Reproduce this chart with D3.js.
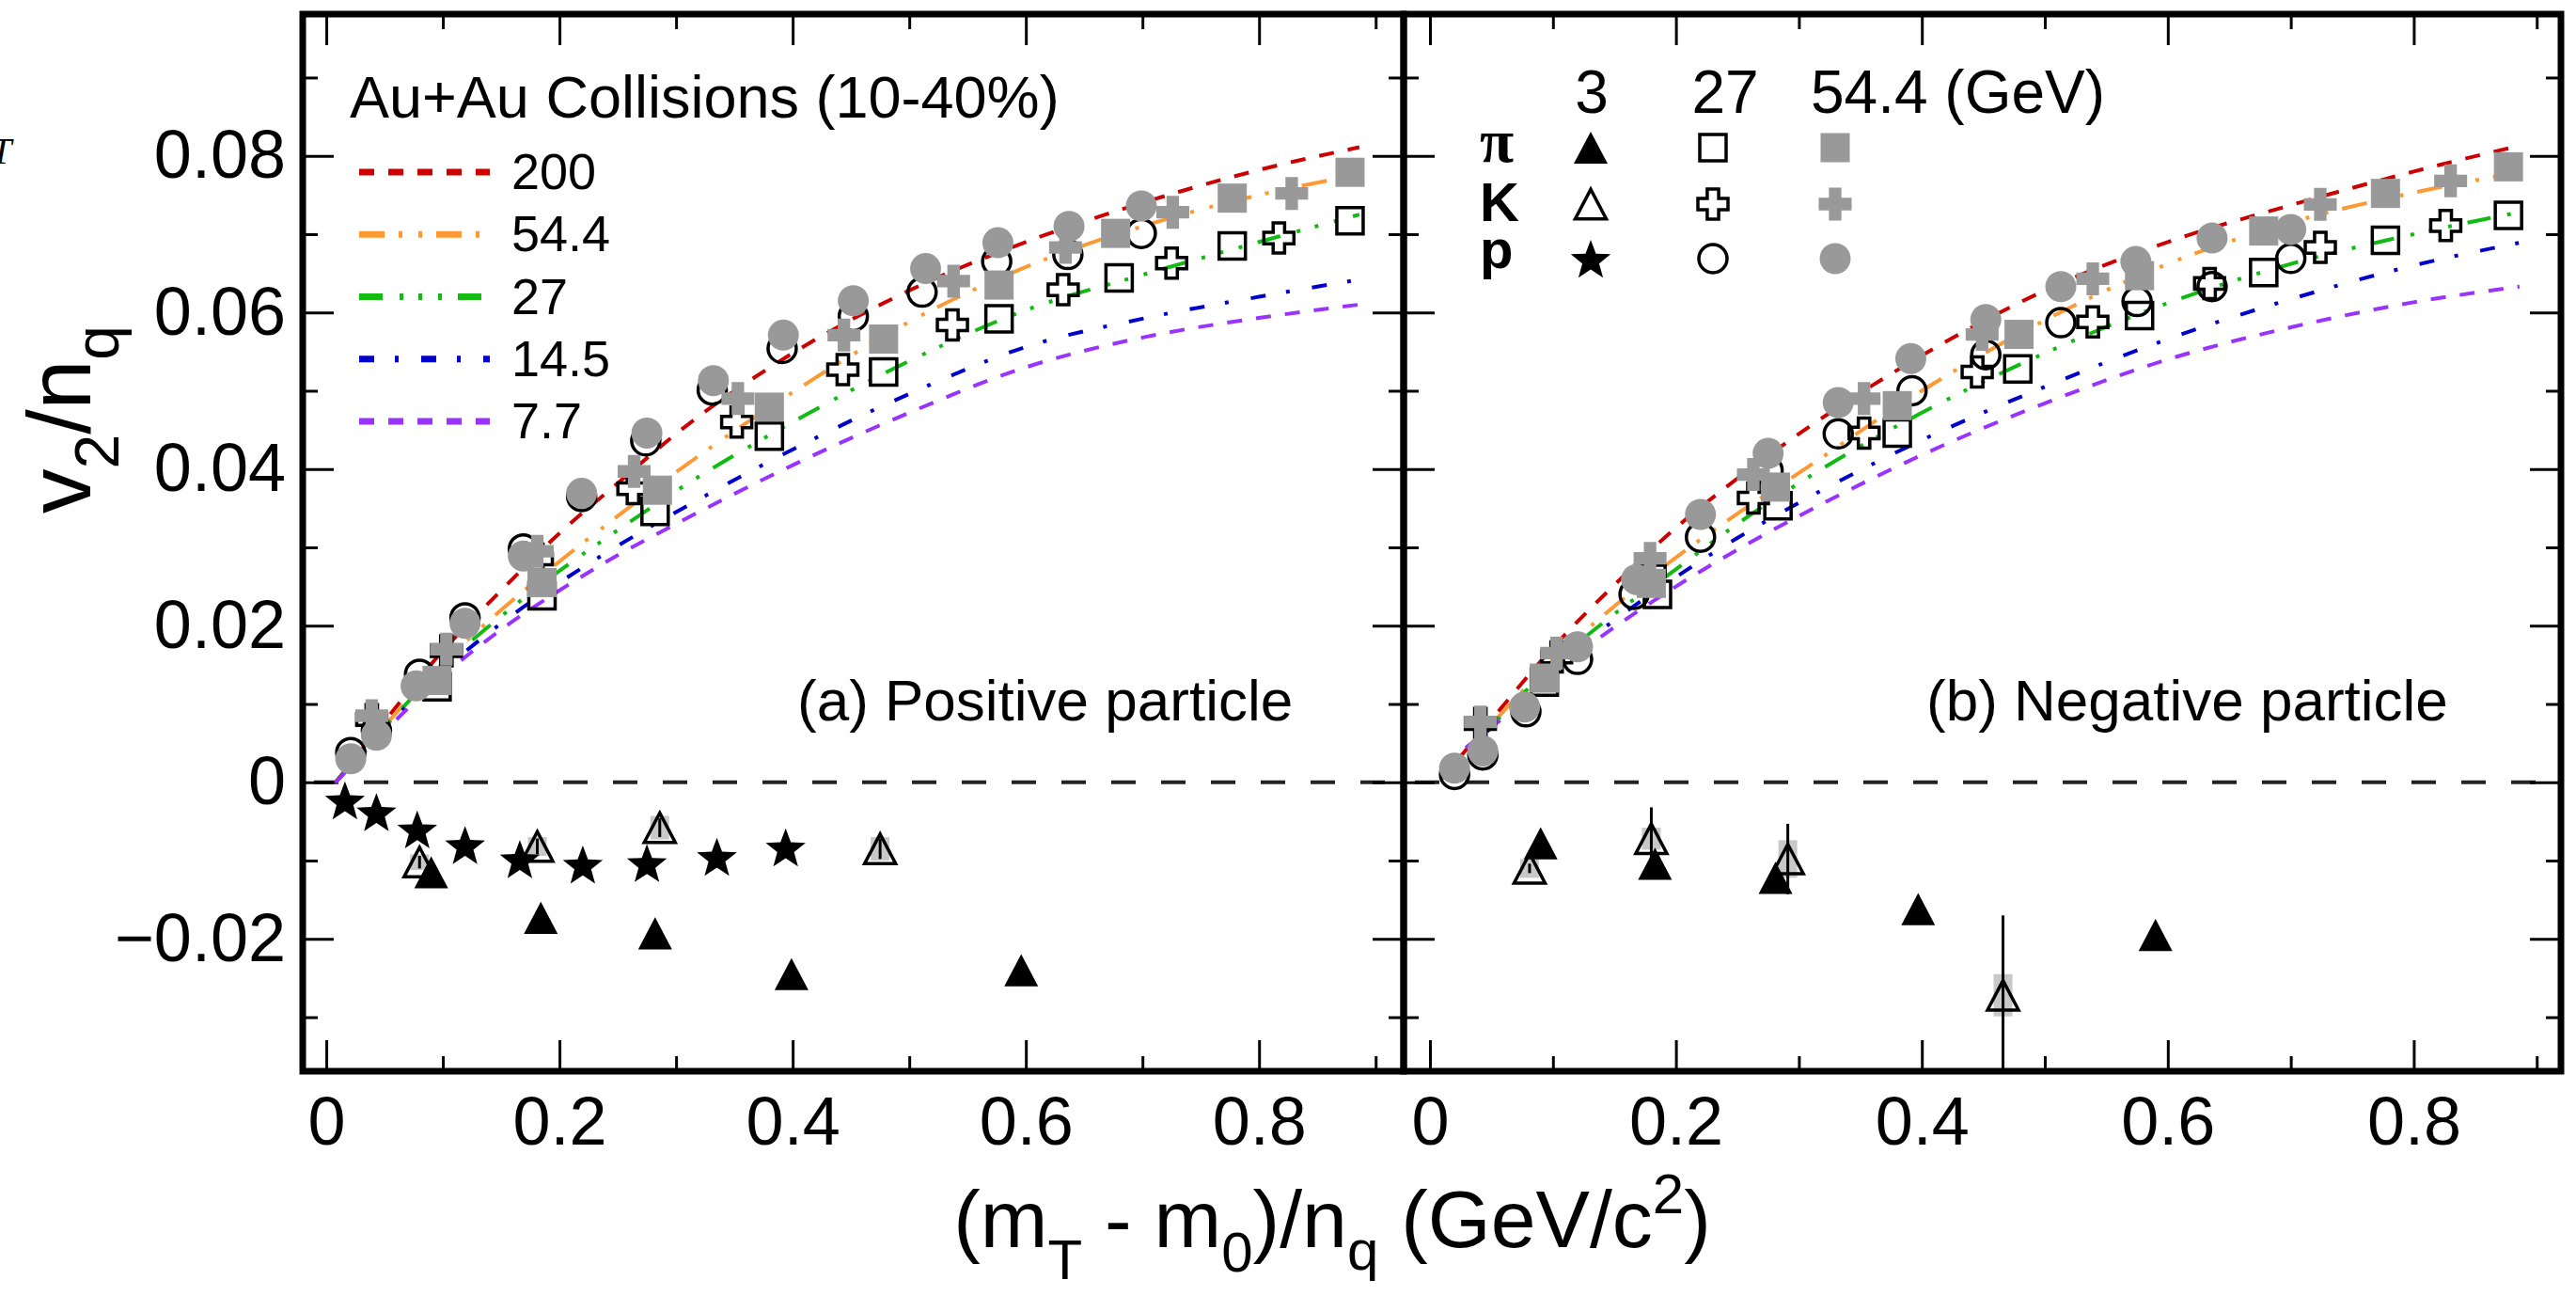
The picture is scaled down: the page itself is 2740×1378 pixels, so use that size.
<!DOCTYPE html>
<html>
<head>
<meta charset="utf-8">
<script src="https://cdn.jsdelivr.net/npm/d3@7"></script>
<style>
  body { margin: 0; background: #ffffff; }
  svg { display: block; }
</style>
</head>
<body>
<svg id="chart" width="2740" height="1378"></svg>
<script>
// ---------------- DATA ----------------
const fitEnergies = ["200", "54.4", "27", "14.5", "7.7"];
const fitColors   = ["#cc0000", "#ff9933", "#11bb11", "#0000cc", "#9933ff"];

const fitPosX = [0.008, 0.05, 0.1, 0.15, 0.2, 0.25, 0.3, 0.4, 0.5, 0.6, 0.7, 0.8, 0.886];
const fitPos200 = [0.0, 0.0078, 0.0168, 0.0245, 0.0318, 0.0382, 0.0445, 0.0548, 0.0628, 0.0690, 0.0740, 0.0782, 0.0811];
const fitPos54  = [0.0, 0.0072, 0.0152, 0.0220, 0.0282, 0.0340, 0.0396, 0.0498, 0.0588, 0.0658, 0.0710, 0.0750, 0.0776];
const fitPos27  = [0.0, 0.0070, 0.0148, 0.0212, 0.0270, 0.0322, 0.0372, 0.0460, 0.0538, 0.0603, 0.0648, 0.0690, 0.0725];
const fitPos14  = [0.0, 0.0068, 0.0142, 0.0203, 0.0255, 0.0302, 0.0345, 0.0425, 0.0496, 0.0556, 0.0592, 0.0620, 0.0642];
const fitPos7   = [0.0, 0.0065, 0.0136, 0.0195, 0.0245, 0.0290, 0.0330, 0.0405, 0.0472, 0.0530, 0.0568, 0.0593, 0.0610];

const fitNegX = [0.01, 0.05, 0.1, 0.15, 0.2, 0.25, 0.3, 0.4, 0.5, 0.6, 0.7, 0.8, 0.886];
const fitNeg200 = [0.0005, 0.0080, 0.0172, 0.0252, 0.0325, 0.0388, 0.0445, 0.0545, 0.0628, 0.0690, 0.0737, 0.0780, 0.0813];
const fitNeg54  = [0.0005, 0.0074, 0.0156, 0.0225, 0.0287, 0.0343, 0.0395, 0.0500, 0.0590, 0.0662, 0.0715, 0.0753, 0.0779];
const fitNeg27  = [0.0008, 0.0072, 0.0150, 0.0215, 0.0272, 0.0330, 0.0382, 0.0472, 0.0548, 0.0612, 0.0662, 0.0700, 0.0728];
const fitNeg14  = [0.0010, 0.0070, 0.0145, 0.0207, 0.0262, 0.0312, 0.0357, 0.0437, 0.0505, 0.0566, 0.0617, 0.0660, 0.0689];
const fitNeg7   = [0.0022, 0.0070, 0.0140, 0.0198, 0.0250, 0.0297, 0.0340, 0.0418, 0.0484, 0.0540, 0.0581, 0.0613, 0.0633];

// (a) positive particles
const posPi3X = [0.090, 0.184, 0.282, 0.399, 0.596];
const posPi3Y = [-0.0115, -0.0173, -0.0193, -0.0245, -0.0240];
const posK3X  = [0.080, 0.181, 0.286, 0.475];
const posK3Y  = [-0.0102, -0.0082, -0.0058, -0.0085];
const posK3Err = [0.0008, 0.0010, 0.0012, 0.0013];
const posK3Sys = [0.0010, 0.0012, 0.0015, 0.0015];
const posP3X  = [0.016, 0.043, 0.078, 0.119, 0.166, 0.220, 0.275, 0.335, 0.394];
const posP3Y  = [-0.0023, -0.0038, -0.0060, -0.0080, -0.0098, -0.0105, -0.0103, -0.0095, -0.0083];
const posPi27X = [0.095, 0.185, 0.282, 0.380, 0.478, 0.577, 0.680, 0.777, 0.878];
const posPi27Y = [0.0122, 0.0238, 0.0346, 0.0442, 0.0524, 0.0592, 0.0644, 0.0685, 0.0717];
const posPi54X = [0.095, 0.185, 0.284, 0.380, 0.478, 0.577, 0.677, 0.777, 0.878];
const posPi54Y = [0.0130, 0.0255, 0.0373, 0.0479, 0.0566, 0.0635, 0.0701, 0.0746, 0.0779];
const posK27X = [0.039, 0.103, 0.181, 0.263, 0.352, 0.443, 0.537, 0.632, 0.725, 0.817];
const posK27Y = [0.0080, 0.0168, 0.0285, 0.0375, 0.0460, 0.0527, 0.0584, 0.0629, 0.0663, 0.0695];
const posK54X = [0.039, 0.103, 0.181, 0.264, 0.353, 0.444, 0.538, 0.634, 0.726, 0.828];
const posK54Y = [0.0085, 0.0170, 0.0295, 0.0397, 0.0490, 0.0571, 0.0640, 0.0683, 0.0728, 0.0752];
const posP27X = [0.021, 0.043, 0.080, 0.119, 0.169, 0.219, 0.274, 0.331, 0.391, 0.452, 0.511, 0.575, 0.636, 0.699];
const posP27Y = [0.0038, 0.0066, 0.0138, 0.0210, 0.0298, 0.0365, 0.0436, 0.0501, 0.0554, 0.0595, 0.0626, 0.0665, 0.0674, 0.0701];
const posP54X = [0.021, 0.043, 0.077, 0.119, 0.169, 0.219, 0.275, 0.332, 0.392, 0.452, 0.514, 0.576, 0.637, 0.699];
const posP54Y = [0.0030, 0.0060, 0.0123, 0.0203, 0.0289, 0.0369, 0.0446, 0.0513, 0.0571, 0.0615, 0.0656, 0.0689, 0.0710, 0.0736];

// (b) negative particles
const negPi3X = [0.090, 0.183, 0.281, 0.397, 0.590];
const negPi3Y = [-0.0078, -0.0104, -0.0122, -0.0162, -0.0195];
const negK3X  = [0.081, 0.180, 0.291, 0.466];
const negK3Y  = [-0.0110, -0.0072, -0.0098, -0.0272];
const negK3Err = [0.0006, 0.0040, 0.0045, 0.0102];
const negK3Sys = [0.0012, 0.0014, 0.0024, 0.0027];
const negPi27X = [0.093, 0.185, 0.283, 0.380, 0.478, 0.577, 0.678, 0.777, 0.877];
const negPi27Y = [0.0128, 0.0240, 0.0353, 0.0446, 0.0528, 0.0596, 0.0651, 0.0692, 0.0724];
const negPi54X = [0.093, 0.180, 0.281, 0.380, 0.479, 0.577, 0.678, 0.777, 0.877];
const negPi54Y = [0.0133, 0.0254, 0.0377, 0.0481, 0.0572, 0.0647, 0.0704, 0.0752, 0.0786];
const negK27X = [0.041, 0.103, 0.179, 0.263, 0.353, 0.445, 0.539, 0.634, 0.724, 0.826];
const negK27Y = [0.0075, 0.0160, 0.0270, 0.0363, 0.0446, 0.0524, 0.0588, 0.0637, 0.0683, 0.0711];
const negK54X = [0.041, 0.103, 0.179, 0.263, 0.353, 0.449, 0.539, 0.724, 0.830];
const negK54Y = [0.0077, 0.0165, 0.0286, 0.0393, 0.0490, 0.0572, 0.0643, 0.0738, 0.0768];
const negP27X = [0.020, 0.043, 0.078, 0.120, 0.166, 0.220, 0.275, 0.332, 0.392, 0.452, 0.513, 0.575, 0.636, 0.700];
const negP27Y = [0.0010, 0.0035, 0.0090, 0.0157, 0.0240, 0.0313, 0.0398, 0.0445, 0.0500, 0.0546, 0.0587, 0.0614, 0.0633, 0.0669];
const negP54X = [0.020, 0.043, 0.077, 0.120, 0.168, 0.220, 0.275, 0.332, 0.391, 0.452, 0.513, 0.574, 0.636, 0.700];
const negP54Y = [0.0018, 0.0040, 0.0096, 0.0173, 0.0259, 0.0342, 0.0420, 0.0485, 0.0541, 0.0591, 0.0633, 0.0665, 0.0695, 0.0706];

// ticks & labels
const xMajor = [0, 0.2, 0.4, 0.6, 0.8];
const xMinor = [0.1, 0.3, 0.5, 0.7, 0.9];
const xTickLabels = ["0", "0.2", "0.4", "0.6", "0.8"];
const yMajor = [-0.02, 0, 0.02, 0.04, 0.06, 0.08];
const yMinor = [-0.03, -0.01, 0.01, 0.03, 0.05, 0.07, 0.09];
const yTickLabels = ["\u22120.02", "0", "0.02", "0.04", "0.06", "0.08"];

const legendHeader = "Au+Au Collisions (10-40%)";
const markerLegendCols = ["3", "27", "54.4 (GeV)"];
const markerLegendRows = ["\u03c0", "K", "p"];

// ---------------- LAYOUT ----------------
const FONT = "'Liberation Sans', Arial, Helvetica, sans-serif";
const svg = d3.select("#chart");
svg.append("rect").attr("width", 2740).attr("height", 1378).attr("fill", "#fff");

const TOP = 15, BOTTOM = 1139;
const yScale = d3.scaleLinear().domain([-0.0369, 0.0981]).range([BOTTOM, TOP]);
const panelA = { id: "a", left: 322, right: 1493, dom: [-0.0202, 0.924] };
const panelB = { id: "b", left: 1493, right: 2724, dom: [-0.0214, 0.9197] };
panelA.x = d3.scaleLinear().domain(panelA.dom).range([panelA.left, panelA.right]);
panelB.x = d3.scaleLinear().domain(panelB.dom).range([panelB.left, panelB.right]);

const fitDash = ["16,15", "27,15,4,17,4,15", "25,18,4,16,4,17,4,17", "16,22,4,24", "16,15"];
const GRAY = "#999999", LIGHT = "#c8c8c8";

// ---------- marker shapes ----------
function shapePath(type, s) {
  const h = s / 2;
  if (type === "square") return `M${-h},${-h}H${h}V${h}H${-h}Z`;
  if (type === "triangle") { const H = s * 0.95; return `M0,${-H/2}L${h},${H/2}L${-h},${H/2}Z`; }
  if (type === "circle") { const p = d3.path(); p.arc(0, 0, h, 0, 2 * Math.PI); p.closePath(); return p.toString(); }
  if (type === "star") {
    const R = s * 0.62, r = R * 0.42; let d = "";
    for (let i = 0; i < 10; i++) {
      const rr = i % 2 === 0 ? R : r;
      const a = -Math.PI / 2 + i * Math.PI / 5;
      d += (i === 0 ? "M" : "L") + (rr * Math.cos(a)).toFixed(2) + "," + (rr * Math.sin(a) + R * 0.1).toFixed(2);
    }
    return d + "Z";
  }
  if (type === "cross") {
    const a = s * 0.19;
    const pts = [[-a,-h],[a,-h],[a,-a],[h,-a],[h,a],[a,a],[a,h],[-a,h],[-a,a],[-h,a],[-h,-a],[-a,-a]];
    return "M" + pts.map(p => p.join(",")).join("L") + "Z";
  }
}
const markerSize = { square: 31, triangle: 36, circle: 33, star: 36, cross: 35 };
const markerStyles = {
  pi3:  { type: "triangle", fill: "#000", stroke: "none" },
  k3:   { type: "triangle", fill: "none", stroke: "#000" },
  p3:   { type: "star", fill: "#000", stroke: "none" },
  pi27: { type: "square", fill: "none", stroke: "#000" },
  k27:  { type: "cross", fill: "none", stroke: "#000" },
  p27:  { type: "circle", fill: "none", stroke: "#000" },
  pi54: { type: "square", fill: GRAY, stroke: "none" },
  k54:  { type: "cross", fill: GRAY, stroke: "none" },
  p54:  { type: "circle", fill: GRAY, stroke: "none" }
};
function drawMarkers(g, xs, ys, styleKey, xScale) {
  const st = markerStyles[styleKey];
  const s = markerSize[st.type] - (st.stroke !== "none" ? 3 : 0);
  g.append("g").selectAll("path").data(d3.zip(xs, ys)).join("path")
    .attr("d", shapePath(st.type, s))
    .attr("transform", d => `translate(${xScale(d[0])},${yScale(d[1])})`)
    .attr("fill", st.fill).attr("stroke", st.stroke).attr("stroke-width", 3.5)
    .attr("stroke-linejoin", "miter");
}

function axisStyle(ax) {
  ax.attr("font-size", null).attr("font-family", null);
  ax.select(".domain").remove();
  ax.selectAll(".tick line").attr("stroke", "#000").attr("stroke-width", 3);
  ax.selectAll(".tick text").attr("fill", "#000").attr("font-family", FONT).attr("font-size", 72);
}

function drawPanel(p, fitX, fits, series, sys) {
  const x = p.x;
  const clipId = "clip-" + p.id;
  svg.append("clipPath").attr("id", clipId).append("rect")
    .attr("x", p.left).attr("y", TOP).attr("width", p.right - p.left).attr("height", BOTTOM - TOP);
  const plot = svg.append("g").attr("clip-path", `url(#${clipId})`);

  // zero line
  plot.append("line").attr("x1", p.left + 12).attr("x2", p.right).attr("y1", yScale(0)).attr("y2", yScale(0))
    .attr("stroke", "#222").attr("stroke-width", 4).attr("stroke-dasharray", "26,27");

  // fit curves
  const line = d3.line().x(d => x(d[0])).y(d => yScale(d[1])).curve(d3.curveMonotoneX);
  fits.forEach((vals, i) => {
    plot.append("path").attr("d", line(d3.zip(fitX, vals)))
      .attr("fill", "none").attr("stroke", fitColors[i]).attr("stroke-width", 4)
      .attr("stroke-dasharray", fitDash[i]);
  });

  // 3 GeV kaon: systematic boxes + error bars
  const kd = d3.zip(sys.x, sys.y, sys.err, sys.sys);
  plot.append("g").selectAll("rect").data(kd).join("rect")
    .attr("x", d => x(d[0]) - 10).attr("width", 20)
    .attr("y", d => yScale(d[1] + d[3])).attr("height", d => yScale(d[1] - d[3]) - yScale(d[1] + d[3]))
    .attr("fill", LIGHT);
  plot.append("g").selectAll("line").data(kd).join("line")
    .attr("x1", d => x(d[0])).attr("x2", d => x(d[0]))
    .attr("y1", d => yScale(d[1] + d[2])).attr("y2", d => yScale(d[1] - d[2]))
    .attr("stroke", "#000").attr("stroke-width", 3);

  // markers: open (27 GeV) first, 3 GeV, then gray (54.4 GeV)
  series.forEach(s => drawMarkers(plot, s[0], s[1], s[2], x));

  // axes (ticks inside)
  const addAxis = (gen, tr, vals, size, labels, pad) => {
    const ax = svg.append("g").attr("transform", tr)
      .call(gen.tickValues(vals).tickSize(size).tickPadding(pad)
        .tickFormat(labels ? ((d, i) => labels[i]) : () => ""));
    axisStyle(ax);
    return ax;
  };
  addAxis(d3.axisBottom(x), `translate(0,${BOTTOM})`, xMajor, -33, xTickLabels, 27);
  addAxis(d3.axisBottom(x), `translate(0,${BOTTOM})`, xMinor, -16, null, 27);
  addAxis(d3.axisTop(x), `translate(0,${TOP})`, xMajor, -33, null, 10);
  addAxis(d3.axisTop(x), `translate(0,${TOP})`, xMinor, -16, null, 10);
  addAxis(d3.axisLeft(yScale), `translate(${p.left},0)`, yMajor, -33, p.id === "a" ? yTickLabels : null, 18);
  addAxis(d3.axisLeft(yScale), `translate(${p.left},0)`, yMinor, -16, null, 18);
  addAxis(d3.axisRight(yScale), `translate(${p.right},0)`, yMajor, -33, null, 10);
  addAxis(d3.axisRight(yScale), `translate(${p.right},0)`, yMinor, -16, null, 10);

  // frame
  svg.append("rect").attr("x", p.left).attr("y", TOP).attr("width", p.right - p.left).attr("height", BOTTOM - TOP)
    .attr("fill", "none").attr("stroke", "#000").attr("stroke-width", 7);
}

drawPanel(panelA, fitPosX, [fitPos200, fitPos54, fitPos27, fitPos14, fitPos7], [
  [posPi27X, posPi27Y, "pi27"], [posK27X, posK27Y, "k27"], [posP27X, posP27Y, "p27"],
  [posK3X, posK3Y, "k3"], [posPi3X, posPi3Y, "pi3"], [posP3X, posP3Y, "p3"],
  [posPi54X, posPi54Y, "pi54"], [posK54X, posK54Y, "k54"], [posP54X, posP54Y, "p54"]
], { x: posK3X, y: posK3Y, err: posK3Err, sys: posK3Sys });

drawPanel(panelB, fitNegX, [fitNeg200, fitNeg54, fitNeg27, fitNeg14, fitNeg7], [
  [negPi27X, negPi27Y, "pi27"], [negK27X, negK27Y, "k27"], [negP27X, negP27Y, "p27"],
  [negK3X, negK3Y, "k3"], [negPi3X, negPi3Y, "pi3"],
  [negPi54X, negPi54Y, "pi54"], [negK54X, negK54Y, "k54"], [negP54X, negP54Y, "p54"]
], { x: negK3X, y: negK3Y, err: negK3Err, sys: negK3Sys });

// ---------- legend (a): fit curves ----------
svg.append("text").attr("x", 372).attr("y", 125).attr("font-family", FONT).attr("font-size", 63)
  .attr("fill", "#000").text(legendHeader);
const legRowY = d3.scaleLinear().domain([0, 4]).range([183, 448]);
fitEnergies.forEach((e, i) => {
  svg.append("line").attr("x1", 382).attr("x2", 521).attr("y1", legRowY(i)).attr("y2", legRowY(i))
    .attr("stroke", fitColors[i]).attr("stroke-width", 7).attr("stroke-dasharray", fitDash[i]);
  svg.append("text").attr("x", 544).attr("y", legRowY(i) + 18).attr("font-family", FONT)
    .attr("font-size", 54).attr("fill", "#000").text(e);
});

// ---------- legend (b): markers ----------
const colX = [1692, 1822, 1952];
const colTextX = [1693, 1835, 1926];
markerLegendCols.forEach((t, i) => {
  svg.append("text").attr("x", colTextX[i]).attr("y", 120).attr("text-anchor", i < 2 ? "middle" : "start")
    .attr("font-family", FONT).attr("font-size", 64).attr("fill", "#000").text(t);
});
const rowY = [157, 217, 275];
const rowBase = [172, 235, 285];
markerLegendRows.forEach((t, i) => {
  svg.append("text").attr("x", 1574).attr("y", rowBase[i])
    .attr("font-family", i === 0 ? "'Liberation Serif', 'DejaVu Serif', serif" : FONT)
    .attr("font-weight", "bold").attr("font-size", i === 0 ? 66 : 58).attr("fill", "#000").text(t);
});
const legendKeys = [["pi3", "pi27", "pi54"], ["k3", "k27", "k54"], ["p3", "p27", "p54"]];
legendKeys.forEach((row, ri) => row.forEach((k, ci) => {
  const st = markerStyles[k];
  const s = markerSize[st.type] - (st.stroke !== "none" ? 3 : 0);
  svg.append("path").attr("d", shapePath(st.type, s))
    .attr("transform", `translate(${colX[ci]},${rowY[ri]})`)
    .attr("fill", st.fill).attr("stroke", st.stroke).attr("stroke-width", 3.5);
}));

// ---------- panel labels ----------
svg.append("text").attr("x", 848).attr("y", 766).attr("font-family", FONT).attr("font-size", 62)
  .attr("fill", "#000").text("(a) Positive particle");
svg.append("text").attr("x", 2049).attr("y", 766).attr("font-family", FONT).attr("font-size", 62)
  .attr("fill", "#000").text("(b) Negative particle");

// ---------- axis titles ----------
const xt = svg.append("text").attr("x", 1417).attr("y", 1326).attr("text-anchor", "middle")
  .attr("font-family", FONT).attr("font-size", 86).attr("fill", "#000");
xt.append("tspan").text("(m");
xt.append("tspan").attr("font-size", 60).attr("dy", 34).text("T");
xt.append("tspan").attr("dy", -34).text(" - m");
xt.append("tspan").attr("font-size", 60).attr("dy", 26).text("0");
xt.append("tspan").attr("dy", -26).text(")/n");
xt.append("tspan").attr("font-size", 60).attr("dy", 24).text("q");
xt.append("tspan").attr("dy", -24).text(" (GeV/c");
xt.append("tspan").attr("font-size", 60).attr("dy", -36).text("2");
xt.append("tspan").attr("dy", 36).text(")");

const yt = svg.append("text").attr("transform", "translate(96,446) rotate(-90)").attr("text-anchor", "middle")
  .attr("font-family", FONT).attr("font-size", 95).attr("fill", "#000");
yt.append("tspan").text("v");
yt.append("tspan").attr("font-size", 66).attr("dy", 30).text("2");
yt.append("tspan").attr("dy", -30).text("/n");
yt.append("tspan").attr("font-size", 66).attr("dy", 30).text("q");

// stray italic glyph at the left edge of the original figure
svg.append("text").attr("x", -10).attr("y", 174).attr("font-family", "'Liberation Serif', serif")
  .attr("font-style", "italic").attr("font-size", 40).attr("fill", "#000").text("T");
</script>
</body>
</html>
